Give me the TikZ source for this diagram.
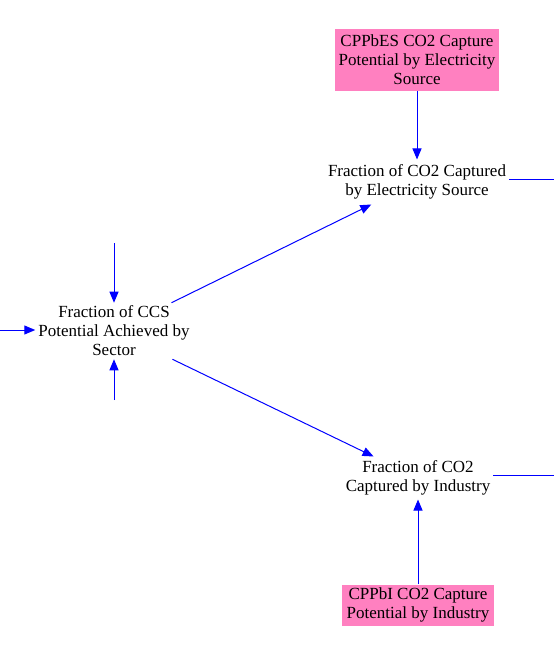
\documentclass[tikz,border=0pt]{standalone}
\usepackage{fontspec}
\setmainfont{Liberation Serif}
\usetikzlibrary{arrows.meta}
\definecolor{boxpink}{RGB}{255,128,192}
\definecolor{linkblue}{RGB}{0,0,255}
\begin{document}
\begin{tikzpicture}[x=1pt,y=-1pt,
  var/.style={align=center, font=\fontsize{17}{19}\selectfont, inner sep=3pt},
  const/.style={var, fill=boxpink},
  link/.style={draw=linkblue, line width=1pt, -{Triangle[length=11pt,width=9pt]}},
  plain/.style={draw=linkblue, line width=1pt}]
\useasboundingbox (0,0) rectangle (554,652);
\node[const, minimum width=164pt, minimum height=62pt] (cppbes) at (417,60) {CPPbES CO2 Capture\\Potential by Electricity\\Source};
\node[var, inner ysep=5pt] (elec) at (417,182) {Fraction of CO2 Captured\\by Electricity Source};
\node[var] (ccs) at (114,331) {Fraction of CCS\\Potential Achieved by\\Sector};
\node[var, inner ysep=4pt] (ind) at (418,478) {Fraction of CO2\\Captured by Industry};
\node[const, minimum width=152pt, minimum height=41pt] (cppbi) at (418,605) {CPPbI CO2 Capture\\Potential by Industry};
\coordinate (ccstop) at (114,243);
\coordinate (ccsleft) at (0,330);
\coordinate (ccsbot) at (114,400);
\coordinate (elecout) at (554,180);
\coordinate (indout) at (554,475);
\draw[link] (cppbes) -- (elec);
\draw[link] (cppbi) -- (ind);
\draw[link] (ccstop) -- (ccs);
\draw[link] (ccsleft) -- (ccs.west |- ccsleft);
\draw[link] (ccsbot) -- (ccs);
\draw[link] (ccs) -- (elec);
\draw[link] (ccs) -- (ind);
\draw[plain] (elec.east |- elecout) -- (elecout);
\draw[plain] (ind.east |- indout) -- (indout);
\end{tikzpicture}
\end{document}
